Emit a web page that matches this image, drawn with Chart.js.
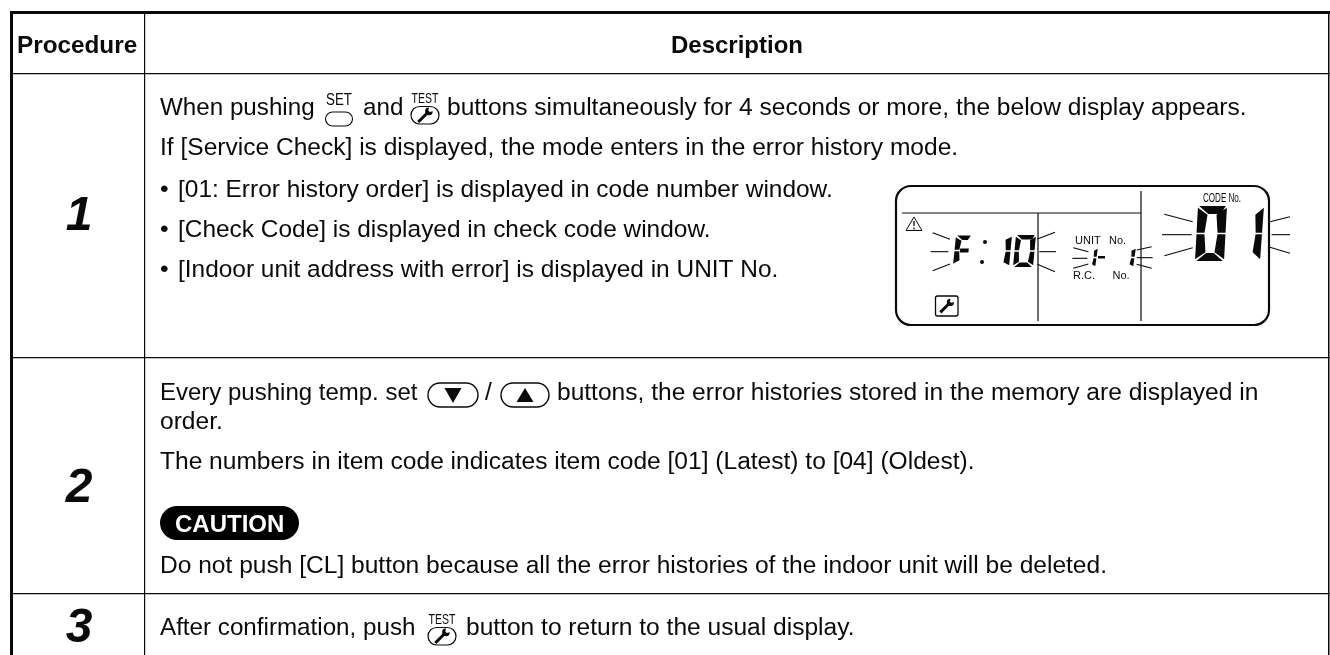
<!DOCTYPE html>
<html><head><meta charset="utf-8">
<style>html,body{margin:0;padding:0;background:#fff;overflow:hidden}#w{position:relative;width:1330px;height:655px}</style>
<script src="https://cdn.jsdelivr.net/npm/chart.js@4"></script></head>
<body><div id="w"><canvas id="c" width="1330" height="655"></canvas></div>
<script>
// Table content
const procedures = ['1','2','3'];
const headers = ['Procedure','Description'];
const bodyLines = [
 'If [Service Check] is displayed, the mode enters in the error history mode.',
 'order.',
 'The numbers in item code indicates item code [01] (Latest) to [04] (Oldest).',
 'Do not push [CL] button because all the error histories of the indoor unit will be deleted.'
];
const bodyBaselines = [155,429,469,573];
const bulletLines = [
 '[01: Error history order] is displayed in code number window.',
 '[Check Code] is displayed in check code window.',
 '[Indoor unit address with error] is displayed in UNIT No.'
];
const bulletBaselines = [197,237,277];
const columnEdges = [11,145,1329];
const rowEdges = [12.5,74,358,594];
const INK = '#0a0a0a';
const FONT = '"Liberation Sans",Arial,sans-serif';

function text(ctx,s,x,y,font,o={}){
  ctx.font=font; ctx.fillStyle=o.color||INK; ctx.textAlign=o.align||'left'; ctx.textBaseline='alphabetic';
  ctx.fillText(s,x,y);
}
function line(ctx,a,b,w){ctx.beginPath();ctx.moveTo(a[0],a[1]);ctx.lineTo(b[0],b[1]);ctx.lineWidth=w||1;ctx.strokeStyle=INK;ctx.stroke();}
function wrench(ctx,cx,cy,s){
  ctx.save();ctx.translate(cx,cy);ctx.rotate(-Math.PI/4);ctx.fillStyle=INK;
  ctx.fillRect(-s,-s*0.16,s*1.3,s*0.32);
  const hx=s*0.58,r=s*0.4;
  ctx.beginPath();ctx.arc(hx,0,r,0.75,Math.PI*2-0.75);ctx.lineTo(hx+r*0.05,-r*0.25);ctx.lineTo(hx+r*0.05,r*0.25);ctx.closePath();ctx.fill();
  ctx.restore();
}
function setIcon(ctx,x,base){
  ctx.save();ctx.translate(x,base);ctx.scale(0.83,1);
  text(ctx,'SET',0,0,'16px '+FONT,{align:'center'});ctx.restore();
  ctx.beginPath();ctx.roundRect(x-13.5,base+7,27,14,7);ctx.lineWidth=1.1;ctx.strokeStyle=INK;ctx.stroke();
}
function testIcon(ctx,x,base){
  ctx.save();ctx.translate(x,base);ctx.scale(0.7,1);
  text(ctx,'TEST',0,0,'15px '+FONT,{align:'center'});ctx.restore();
  ctx.beginPath();ctx.roundRect(x-14,base+3.5,28,17.5,8.7);ctx.lineWidth=1.2;ctx.strokeStyle=INK;ctx.stroke();
  wrench(ctx,x,base+12.3,9.5);
}
function tempBtn(ctx,x,y,w,up){
  ctx.beginPath();ctx.roundRect(x,y,w,24,12);ctx.lineWidth=1.4;ctx.strokeStyle=INK;ctx.stroke();
  const cx=x+w/2,cy=y+12;ctx.beginPath();
  if(up){ctx.moveTo(cx-8.5,cy+7);ctx.lineTo(cx+8.5,cy+7);ctx.lineTo(cx,cy-7);}
  else{ctx.moveTo(cx-8.5,cy-7);ctx.lineTo(cx+8.5,cy-7);ctx.lineTo(cx,cy+8);}
  ctx.closePath();ctx.fillStyle=INK;ctx.fill();
}
const SEG={0:'abcdef',1:'bc',F:'afge'};
function seg7(ctx,ch,x,y,w,h,t,ty,sl){
  const X=(px,py)=>x+px+sl*(h-py)/h, m=h/2, g=0.7;
  const P={
   a:[[g+0.5,0],[w-g-0.5,0],[w-t*0.5-g,ty],[t+g,ty]],
   b:[[w,g+1],[w,m-g],[w-t*0.8,m-g],[w-t,Math.min(ty,h/6)+g]],
   c:[[w,m+g],[w,h-g-1],[w-t,h-Math.min(ty,h/6)-g],[w-t*0.8,m+g]],
   d:[[g+0.5,h],[w-g-0.5,h],[w-t-g,h-ty],[t+g,h-ty]],
   e:[[0,m+g],[t*0.8,m+g],[t,h-ty-g],[0,h-g-1]],
   f:[[0,g+1],[t,ty+g],[t*0.8,m-g],[0,m-g]],
   g:[[t*0.8+g,m-ty*0.45],[w-t*0.2-g,m-ty*0.45],[w-t*0.2-g,m+ty*0.45],[t*0.8+g,m+ty*0.45]]
  };
  ctx.fillStyle=INK;
  for(const s of SEG[ch]){ctx.beginPath();P[s].forEach((p,i)=>{i?ctx.lineTo(X(p[0],p[1]),y+p[1]):ctx.moveTo(X(p[0],p[1]),y+p[1]);});ctx.closePath();ctx.fill();}
}
const Z=(a,b)=>[880+a/3,170+b/3];
const FLASH=[[158,188,210,208],[152,245,205,245],[158,302,210,282],[472,207,525,187],[478,245,528,245],[472,283,525,305],
 [580,233,625,245],[577,265,622,265],[580,295,625,282],[770,240,815,230],[770,263,818,263],[770,283,815,295],
 [853,133,938,155],[846,194,935,194],[853,257,938,233],[1170,155,1230,140],[1175,194,1230,194],[1170,232,1230,250]];
function lcd(ctx){
  ctx.beginPath();ctx.roundRect(896,186,373,139,15);ctx.lineWidth=2.2;ctx.strokeStyle=INK;ctx.stroke();
  line(ctx,[902,213],[1141,213],1.2);line(ctx,[1038,213],[1038,321],1.2);line(ctx,[1141,191],[1141,321],1.2);
  FLASH.forEach(f=>line(ctx,Z(f[0],f[1]),Z(f[2],f[3]),1.1));
  ctx.beginPath();ctx.moveTo(914,217);ctx.lineTo(906,230.5);ctx.lineTo(922,230.5);ctx.closePath();ctx.lineWidth=1;ctx.strokeStyle=INK;ctx.stroke();
  line(ctx,[914,221],[914,226],1.3);line(ctx,[914,227.5],[914,229.5],1.3);
  ctx.beginPath();ctx.roundRect(935.5,296,22.5,20,2);ctx.lineWidth=1.3;ctx.stroke();wrench(ctx,946.7,306,9);
  seg7(ctx,'F',953,235.5,16,30,6,4.5,3);
  ctx.fillStyle=INK;[[985,242],[982,262]].forEach(p=>{ctx.beginPath();ctx.arc(p[0],p[1],2,0,7);ctx.fill();});
  seg7(ctx,'1',1003,235,6,32,6,4,3);seg7(ctx,'0',1013,235,20,32,5.5,4.5,3);
  seg7(ctx,'1',1091.5,247,3.5,21,3.5,3,3);seg7(ctx,'1',1129,247,4,21,4,3,3);
  ctx.fillRect(1098,256,7,2.5);
  seg7(ctx,'0',1195,206,29,55,10,8,3);seg7(ctx,'1',1252,206,8,55,8,8,4);
  ctx.save();ctx.translate(1203,202);ctx.scale(0.62,1);text(ctx,'CODE No.',0,0,'13px '+FONT);ctx.restore();
  text(ctx,'UNIT',1075,244,'11px '+FONT);text(ctx,'No.',1109,244,'11px '+FONT);
  text(ctx,'R.C.',1073,279,'11px '+FONT);text(ctx,'No.',1112.5,279,'11px '+FONT);
}
const tablePlugin={id:'table',afterDraw(chart){
  const ctx=chart.ctx,x=chart.scales.x,y=chart.scales.y,B='24.55px '+FONT,B2='24.2px '+FONT;
  const px=v=>x.getPixelForValue(v),py=v=>y.getPixelForValue(v);
  ctx.save();
  text(ctx,headers[0],px(17),py(53),'bold 24.3px '+FONT);
  text(ctx,headers[1],px(737),py(53),'bold 24px '+FONT,{align:'center'});
  text(ctx,'When pushing',160,115,B2);setIcon(ctx,339,105);
  text(ctx,'and',363,115,B2);testIcon(ctx,425,103);
  text(ctx,'buttons simultaneously for 4 seconds or more, the below display appears.',447,115,B);
  bodyLines.forEach((s,i)=>text(ctx,s,160,bodyBaselines[i],B));
  bulletLines.forEach((s,i)=>{text(ctx,'\u2022',160,bulletBaselines[i],B);text(ctx,s,178,bulletBaselines[i],'24.45px '+FONT);});
  text(ctx,'Every pushing temp. set',160,400,'24px '+FONT);tempBtn(ctx,428,383,50,false);
  text(ctx,'/',485,400,B);tempBtn(ctx,501,383,48,true);
  text(ctx,'buttons, the error histories stored in the memory are displayed in',557,400,B);
  ctx.beginPath();ctx.roundRect(160,506,139,34,17);ctx.fillStyle='#000';ctx.fill();
  text(ctx,'CAUTION',175,532,'bold 24px '+FONT,{color:'#fff'});
  text(ctx,'After confirmation, push',160,635,B2);testIcon(ctx,442,624);
  text(ctx,'button to return to the usual display.',466,635,B);
  const N='italic bold 48px '+FONT,bases=[230,502,642];
  procedures.forEach((p,i)=>text(ctx,p,79,bases[i],N,{align:'center'}));
  lcd(ctx);
  ctx.restore();
}};
new Chart(document.getElementById('c'),{
  type:'scatter',
  data:{datasets:[{data:[],showLine:false}]},
  plugins:[tablePlugin],
  options:{responsive:false,animation:false,events:[],
    layout:{padding:{left:10,top:11,right:0,bottom:0}},
    plugins:{legend:{display:false},tooltip:{enabled:false},title:{display:false}},
    scales:{
      x:{type:'linear',min:10,max:1330,position:'top',display:true,
        afterBuildTicks(s){s.ticks=columnEdges.map(v=>({value:v}));},
        afterFit(s){s.height=0;},
        ticks:{display:false},border:{display:false},
        grid:{drawTicks:false,color:INK,lineWidth:c=>c.tick&&c.tick.value===columnEdges[0]?3:c.tick&&c.tick.value===1329?1.5:1.2}},
      y:{type:'linear',min:11,max:655,reverse:true,display:true,
        afterBuildTicks(s){s.ticks=rowEdges.map(v=>({value:v}));},
        afterFit(s){s.width=0;},
        ticks:{display:false},border:{display:false},
        grid:{drawTicks:false,color:INK,lineWidth:c=>c.tick&&c.tick.value===rowEdges[0]?3:1.2}}
    }}
});
</script></body></html>
